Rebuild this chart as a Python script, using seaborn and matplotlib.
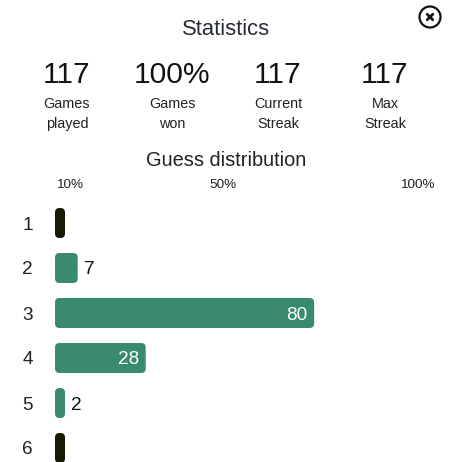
import numpy as np
import pandas as pd
import matplotlib
matplotlib.use('Agg')
import matplotlib.pyplot as plt
from matplotlib.patches import FancyBboxPatch, Circle
from matplotlib.lines import Line2D
import seaborn as sns

## values
stat_values = ['117', '100%', '117', '117']
stat_top = ['Games', 'Games', 'Current', 'Max']
stat_bottom = ['played', 'won', 'Streak', 'Streak']
games_played = 117

guesses = ['1', '2', '3', '4', '5', '6']
counts = [0, 7, 80, 28, 2, 0]
pct_labels = ['10%', '50%', '100%']

GREEN = '#3a8a72'
DARK = '#181a04'

W, H = 458, 462
sns.set_theme(style='white')
plt.rcParams['font.family'] = ['Liberation Sans', 'DejaVu Sans']

fig = plt.figure(figsize=(W / 100, H / 100), dpi=100)


def fx(px):
	return px / W


def fy(py):
	return 1 - py / H


## header
fig.text(fx(226), fy(35), 'Statistics', ha='center', va='baseline', fontsize=15.8, color='#262b36')

stat_x = [67, 172, 278, 385]
for x, v, t, b in zip(stat_x, stat_values, stat_top, stat_bottom):
	fig.text(fx(x), fy(83), v, ha='center', va='baseline', fontsize=21.6, color='#111111')
	fig.text(fx(x), fy(108), t, ha='center', va='baseline', fontsize=10.4, color='#222222')
	fig.text(fx(x), fy(128), b, ha='center', va='baseline', fontsize=10.4, color='#222222')

fig.text(fx(226), fy(166), 'Guess distribution', ha='center', va='baseline', fontsize=14.4, color='#222222')

for x, lab in zip([70, 223, 417], pct_labels):
	fig.text(fx(x), fy(188), lab, ha='center', va='baseline', fontsize=9.7, color='#222222')

## close icon
cx, cy = 4.30, (H - 17) / 100
fig.patches.append(Circle((cx, cy), 0.105, transform=fig.dpi_scale_trans, fill=False,
						  lw=1.6, color='#111111'))
d = 0.028
for sx in (1, -1):
	fig.lines.append(Line2D([cx - d, cx + d], [cy - sx * d, cy + sx * d], transform=fig.dpi_scale_trans,
							lw=2.0, color='#111111', solid_capstyle='round'))

## bars
ax_left, ax_right, ax_top = 55, 434, 200
ax = fig.add_axes([fx(ax_left), 0, (ax_right - ax_left) / W, (H - ax_top) / H])

px_per_x = (ax_right - ax_left) / games_played
px_per_row = 45
min_w = 10 / px_per_x
shown = [max(c, min_w) for c in counts]

df = pd.DataFrame({'guess': guesses, 'count': counts, 'shown': shown})
palette = [GREEN if c > 0 else DARK for c in counts]
sns.barplot(data=df, x='shown', y='guess', hue='guess', palette=palette, legend=False,
			width=30 / px_per_row, ax=ax, saturation=1)

top = -23 / px_per_row
ax.set_xlim(0, games_played)
ax.set_ylim(top + (H - ax_top) / px_per_row, top)

## swap the square bars for rounded ones
rects = sorted(list(ax.patches), key=lambda p: p.get_y())
for p in rects:
	x0, y0, w, h = p.get_x(), p.get_y(), p.get_width(), p.get_height()
	r = min(4.5, w * px_per_x / 2) / px_per_x
	fb = FancyBboxPatch((x0, y0), w, h, boxstyle='round,pad=0,rounding_size=%f' % r,
						mutation_aspect=px_per_x / px_per_row, fc=p.get_facecolor(), ec='none', lw=0)
	p.remove()
	ax.add_patch(fb)

for i, (c, w) in enumerate(zip(counts, shown)):
	if c == 0:
		continue
	if w * px_per_x > 40:
		ax.annotate(str(c), (w, i), xytext=(-5, 0), textcoords='offset points', ha='right',
					va='center_baseline', color='white', fontsize=13.7)
	else:
		ax.annotate(str(c), (w, i), xytext=(4.5, 0), textcoords='offset points', ha='left',
					va='center_baseline', color='#111111', fontsize=13.7)

ax.set_xlabel('')
ax.set_ylabel('')
ax.set_xticks([])
ax.tick_params(axis='y', length=0, pad=16, labelsize=13.7, labelcolor='#222222')
for s in ax.spines.values():
	s.set_visible(False)
ax.patch.set_alpha(0)

fig.savefig('out.png', dpi=100)
